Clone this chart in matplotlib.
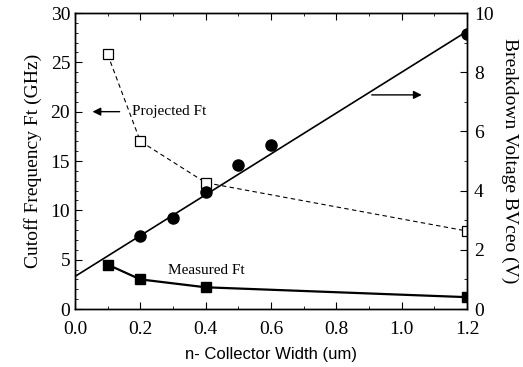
import numpy as np
import matplotlib.pyplot as plt

# data
width = [0.1, 0.2, 0.4, 1.2]
projected_ft = [25.8, 17.0, 12.8, 7.9]
measured_ft = [4.5, 3.0, 2.2, 1.2]

bv_width = [0.2, 0.3, 0.4, 0.5, 0.6, 1.2]
bv = [2.48, 3.08, 3.95, 4.85, 5.55, 9.28]
fit_width = [0.0, 1.2]
fit_bv = [1.1, 9.38]

plt.rcParams['font.family'] = ['Liberation Serif', 'DejaVu Serif']
plt.rcParams['xtick.direction'] = 'in'
plt.rcParams['ytick.direction'] = 'in'

fig = plt.figure(figsize=(5.23, 3.67), dpi=100)
ax = fig.add_axes([75/523, 1-309/367, 392/523, 296/367])

ax.plot(width, projected_ft, 'k--', linewidth=0.8, marker='s', markersize=7.5,
        markerfacecolor='white', markeredgewidth=0.9, dashes=(4, 3))
ax.plot(width, measured_ft, 'k-', linewidth=1.6, marker='s', markersize=7.5,
        markerfacecolor='black')

ax.set_xlim(0, 1.2)
ax.set_ylim(0, 30)
ax.set_xticks(np.arange(0, 1.21, 0.2))
ax.set_xticks(np.arange(0, 1.21, 0.1), minor=True)
ax.set_yticks(np.arange(0, 31, 5))
ax.set_yticks(np.arange(0, 31, 1), minor=True)
ax.tick_params(axis='both', which='major', labelsize=14, length=5, top=True)
ax.tick_params(axis='both', which='minor', length=2.5, top=True)
ax.tick_params(axis='x', which='major', pad=9)
ax.tick_params(axis='y', right=False, which='both')
ax.set_xticklabels(['0.0', '0.2', '0.4', '0.6', '0.8', '1.0', '1.2'])
ax.set_ylabel('Cutoff Frequency Ft (GHz)', fontsize=14, labelpad=6)
ax.set_xlabel('n- Collector Width (um)', fontsize=12, family='Liberation Sans', labelpad=6)

ax2 = ax.twinx()
ax2.plot(fit_width, fit_bv, 'k-', linewidth=1.2)
ax2.plot(bv_width, bv, 'ko', markersize=8, linestyle='none')
ax2.set_ylim(0, 10)
ax2.set_yticks(np.arange(0, 11, 2))
ax2.set_yticks(np.arange(0, 11, 1), minor=True)
ax2.tick_params(axis='y', which='major', labelsize=14, length=5, pad=5)
ax2.tick_params(axis='y', which='minor', length=2.5)
ax2.set_ylabel('Breakdown Voltage BVceo (V)', fontsize=14, rotation=270, labelpad=18)

for a in (ax, ax2):
    for s in a.spines.values():
        s.set_linewidth(1.0)

# annotations
ax.annotate('', xy=(0.045, 20), xytext=(0.145, 20),
            arrowprops=dict(arrowstyle='-|>', color='black', lw=1.0, mutation_scale=12))
ax.text(0.175, 20, 'Projected Ft', fontsize=11, va='center', ha='left')
ax.annotate('', xy=(1.07, 21.7), xytext=(0.9, 21.7),
            arrowprops=dict(arrowstyle='-|>', color='black', lw=1.0, mutation_scale=12))
ax.text(0.285, 3.9, 'Measured Ft', fontsize=11, va='center', ha='left')

fig.savefig('out.png', dpi=100)
